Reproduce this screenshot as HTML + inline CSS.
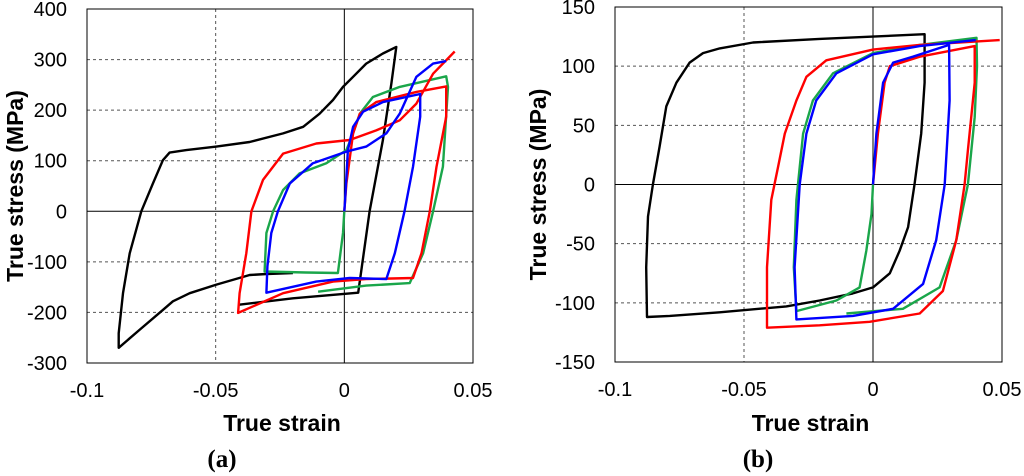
<!DOCTYPE html>
<html><head><meta charset="utf-8"><style>
html,body{margin:0;padding:0;background:#fff;}
svg{display:block;font-family:"Liberation Sans",Arial,sans-serif;}
</style></head><body>
<svg id="chart" width="1024" height="476" viewBox="0 0 1024 476" xmlns="http://www.w3.org/2000/svg"></svg>
<script>
const NS="http://www.w3.org/2000/svg";
const xTicks=[-0.1,-0.05,0,0.05];
const xTickLabels=["-0.1","-0.05","0","0.05"];
const yTicksA=[400,300,200,100,0,-100,-200,-300];
const yTicksB=[150,100,50,0,-50,-100,-150];

// Panel (a) series: [strain, stress]
const aBlack=[[-0.0413,-185],[-0.02,-172],[0.0054,-161],[0.0098,0],[0.015,141],[0.0183,253],[0.0202,325],[0.015,312],[0.0085,292],[0.0034,266],[-0.0005,246],[-0.0044,220],[-0.0096,193],[-0.016,167],[-0.0238,154],[-0.0368,137],[-0.0497,128],[-0.0614,121],[-0.0679,116],[-0.0705,101],[-0.0744,55],[-0.0789,0],[-0.0834,-83],[-0.086,-162],[-0.0877,-241],[-0.0877,-270],[-0.0795,-234],[-0.0705,-195],[-0.0666,-178],[-0.0601,-162],[-0.0497,-145],[-0.0368,-126],[-0.0303,-124],[-0.02,-122]];
const aGreen=[[0,0],[-0.0005,-43],[-0.0025,-122],[-0.015,-121],[-0.031,-119],[-0.0303,-43],[-0.0277,0],[-0.0238,42],[-0.0174,75],[-0.007,95],[0.0008,121],[0.0034,154],[0.006,193],[0.0111,226],[0.0215,246],[0.0396,267],[0.0403,246],[0.0383,88],[0.0345,0],[0.0306,-83],[0.0254,-142],[0.0085,-147],[-0.0102,-159]];
const aRed=[[0,0],[0.0008,55],[0.0034,154],[0.006,193],[0.0124,216],[0.028,236],[0.0396,247],[0.0396,187],[0.0358,88],[0.0332,0],[0.03,-83],[0.0267,-132],[0.0085,-134],[-0.0044,-139],[-0.0238,-162],[-0.0413,-201],[-0.0407,-162],[-0.0381,-83],[-0.0361,0],[-0.0316,62],[-0.0238,114],[-0.0109,134],[0.0021,141],[0.0124,160],[0.0215,180],[0.028,213],[0.0345,272],[0.0429,316]];
const aBlue=[[0,0],[0.0003,22],[0.0014,121],[0.0034,167],[0.0073,197],[0.015,216],[0.0295,232],[0.0295,187],[0.0267,88],[0.0234,0],[0.0196,-83],[0.0163,-134],[0.0021,-132],[-0.0109,-139],[-0.0303,-161],[-0.0299,-109],[-0.0284,-43],[-0.0258,0],[-0.0212,55],[-0.0122,95],[0.0008,118],[0.0085,128],[0.0163,154],[0.0215,193],[0.028,266],[0.0345,292],[0.0396,297]];

// Panel (b) series
const bBlack=[[-0.0078,-92],[0,-87],[0.0065,-75],[0.0103,-56],[0.0136,-36],[0.0161,0],[0.0187,43],[0.02,86],[0.02,127],[0,125],[-0.0207,123],[-0.0465,120],[-0.0594,115],[-0.0659,111],[-0.0711,103],[-0.0762,86],[-0.0801,66],[-0.0827,32],[-0.0853,0],[-0.0872,-27],[-0.0879,-70],[-0.0876,-112],[-0.0788,-111],[-0.0594,-108],[-0.0336,-103],[-0.0207,-98],[-0.0078,-92]];
const bGreen=[[0,0],[-0.0006,-25],[-0.0026,-56],[-0.0052,-87],[-0.0142,-98],[-0.0297,-107],[-0.0307,-70],[-0.0297,-13],[-0.0271,43],[-0.0233,71],[-0.0155,94],[0,111],[0.0181,118],[0.0401,124],[0.0403,100],[0.0394,57],[0.0368,0],[0.0323,-47],[0.0258,-87],[0.0116,-105],[-0.0103,-109]];
const bBlue=[[0,0],[0.0013,43],[0.0039,86],[0.0078,103],[0.0155,108],[0.0295,118],[0.0297,71],[0.0278,0],[0.0245,-47],[0.0194,-84],[0.0078,-105],[-0.0078,-111],[-0.0297,-114],[-0.0304,-70],[-0.0284,0],[-0.0258,43],[-0.022,71],[-0.0142,94],[0,110],[0.0181,117],[0.0398,122]];
const bRed=[[0,0],[0.0019,43],[0.0045,86],[0.0065,100],[0.0181,108],[0.0394,117],[0.0394,86],[0.0368,29],[0.0355,0],[0.0323,-47],[0.0271,-90],[0.0181,-109],[-0.0013,-116],[-0.0207,-119],[-0.0411,-121],[-0.0411,-70],[-0.0394,-13],[-0.0368,15],[-0.0342,43],[-0.0297,71],[-0.0258,91],[-0.0181,105],[0,114],[0.0181,118],[0.0491,122]];

const svg=document.getElementById('chart');
function mk(tag,attrs,parent){const e=document.createElementNS(NS,tag);for(const k in attrs)e.setAttribute(k,attrs[k]);(parent||svg).appendChild(e);return e;}

function panel(cfg){
  const g=mk('g',{});
  
  
  const {L,R,T,B,xmin,xmax,ymin,ymax}=cfg;
  const sx=v=>L+(v-xmin)/(xmax-xmin)*(R-L);
  const sy=v=>B-(v-ymin)/(ymax-ymin)*(B-T);
  cfg.yTicks.forEach(t=>{
    if(t===ymin||t===ymax)return;
    const l=mk('line',{x1:L,x2:R,y1:sy(t),y2:sy(t),stroke:t===0?'#000':'#555','stroke-width':1,'stroke-dasharray':t===0?'none':'3,3'},g);
    
    
  });
  xTicks.forEach(t=>{
    if(t===xmin||t===xmax)return;
    const l=mk('line',{x1:sx(t),x2:sx(t),y1:T,y2:B,stroke:t===0?'#000':'#555','stroke-width':1,'stroke-dasharray':t===0?'none':'3,3'},g);
    
    
  });
  const box=mk('rect',{x:L,y:T,width:R-L,height:B-T,fill:'none',stroke:'#000','stroke-width':1},g);
  
  
  cfg.yTicks.forEach(t=>{
    const tx=mk('text',{x:L-20,y:sy(t)+7,'text-anchor':'end','font-size':20,fill:'#000'},g);
    tx.textContent=String(t);
    
    
  });
  xTicks.forEach((t,i)=>{
    const tx=mk('text',{x:sx(t),y:B+34,'text-anchor':'middle','font-size':20,fill:'#000'},g);
    tx.textContent=xTickLabels[i];
    
    
  });
  cfg.series.forEach(s=>{
    const p=mk('polyline',{points:s.data.map(d=>sx(d[0]).toFixed(1)+','+sy(d[1]).toFixed(1)).join(' '),fill:'none',stroke:s.color,'stroke-width':2.4,'stroke-linejoin':'round'},g);
    
    
  });
  const xt=mk('text',{x:(L+R)/2+2,y:431,'text-anchor':'middle','font-size':23,'font-weight':'bold'},g);
  xt.textContent='True strain';
  
  
  const cy=(T+B)/2;
  const yt=mk('text',{x:cfg.ytx,y:cy,'text-anchor':'middle','font-size':23,'font-weight':'bold',transform:'rotate(-90 '+cfg.ytx+' '+cy+')'},g);
  yt.textContent='True stress (MPa)';
  
  
  const pl=mk('text',{x:cfg.labx,y:467,'text-anchor':'middle','font-size':25,'font-weight':'bold','font-family':'"Liberation Serif",serif'},g);
  pl.textContent=cfg.label;
  
  
}

panel({name:'panel-a',L:87,R:473,T:9,B:363,xmin:-0.1,xmax:0.05,ymin:-300,ymax:400,yTicks:yTicksA,ytx:23,labx:222,label:'(a)',
  series:[{name:'series-black-a',color:'#000',data:aBlack},{name:'series-green-a',color:'#1aa64a',data:aGreen},{name:'series-red-a',color:'#f00',data:aRed},{name:'series-blue-a',color:'#00f',data:aBlue}]});
panel({name:'panel-b',L:615,R:1002,T:7,B:362,xmin:-0.1,xmax:0.05,ymin:-150,ymax:150,yTicks:yTicksB,ytx:546,labx:758,label:'(b)',
  series:[{name:'series-black-b',color:'#000',data:bBlack},{name:'series-green-b',color:'#1aa64a',data:bGreen},{name:'series-red-b',color:'#f00',data:bRed},{name:'series-blue-b',color:'#00f',data:bBlue}]});
</script>
</body></html>
